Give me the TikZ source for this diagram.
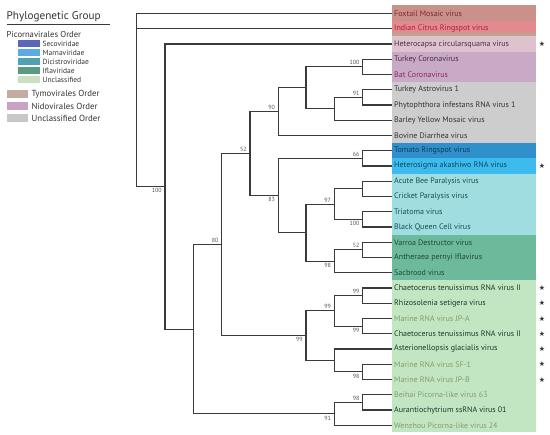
\documentclass[tikz,border=0pt]{standalone}
\usepackage{fontspec}
\setmainfont{PT Sans}
\newfontfamily\symfont{DejaVu Sans}
\definecolor{treec}{HTML}{3A3A3A}
\definecolor{cFox}{HTML}{C9918A}
\definecolor{cInd}{HTML}{E38A8F}
\definecolor{cTan}{HTML}{B9A58E}
\definecolor{cHet}{HTML}{DEC3CF}
\definecolor{cNido}{HTML}{C8A9C6}
\definecolor{cGrey}{HTML}{CDCDCD}
\definecolor{cSeco}{HTML}{3090CC}
\definecolor{cMarn}{HTML}{3DBAEE}
\definecolor{cDici}{HTML}{9FDDE0}
\definecolor{cIfla}{HTML}{6CB99B}
\definecolor{cUncl}{HTML}{C2E6C2}
\definecolor{lSeco}{HTML}{5A66B8}
\definecolor{lMarn}{HTML}{5AAAE6}
\definecolor{lDici}{HTML}{52A0B4}
\definecolor{lIfla}{HTML}{5A9A80}
\definecolor{lUncl}{HTML}{CCE0C0}
\definecolor{lTymo}{HTML}{C4ADA0}
\definecolor{lNido}{HTML}{C8A2C2}
\definecolor{lUord}{HTML}{C8C8C8}
\definecolor{tDark}{HTML}{333333}
\definecolor{tFox}{HTML}{7A2A2A}
\definecolor{tInd}{HTML}{B01E3C}
\definecolor{tHet}{HTML}{4A3040}
\definecolor{tBat}{HTML}{8E2A5A}
\definecolor{tNav}{HTML}{0E3A5A}
\definecolor{tTeal}{HTML}{0E4A5A}
\definecolor{tCyan}{HTML}{1A5050}
\definecolor{tGrn}{HTML}{1F4A3A}
\definecolor{tLg}{HTML}{1E3A2A}
\definecolor{tOl}{HTML}{8A9A6A}
\definecolor{supc}{HTML}{555555}
\begin{document}
\begin{tikzpicture}[x=1pt,y=-1pt,
  br/.style={draw=treec, line width=1.2pt},
  leaf/.style={anchor=west, inner xsep=2pt, inner ysep=0pt, font=\fontsize{8}{9}\selectfont, text=tDark},
  supv/.style={inner sep=0.6pt, font=\fontsize{6}{6}\selectfont, text=supc},
  supa/.style={supv, anchor=south east},
  supb/.style={supv, anchor=north east},
  starmk/.style={font=\symfont\fontsize{7}{7}\selectfont, text=tDark, inner sep=0pt},
  legt/.style={anchor=west, inner sep=0pt, text=tDark},
]
\useasboundingbox (0,0) rectangle (550,435);
\fill[white] (0,0) rectangle (550,435);
% bands
\fill[cFox] (392,5) rectangle (536,21.125);
\fill[cInd] (392,21.125) rectangle (536,33);
\fill[cTan] (392,33) rectangle (536,36.375);
\fill[cHet] (392,36.375) rectangle (536,51.625);
\fill[cNido] (392,51.625) rectangle (536,82.125);
\fill[cGrey] (392,82.125) rectangle (536,143.125);
\fill[cSeco] (392,143.125) rectangle (536,158.375);
\fill[cMarn] (392,158.375) rectangle (536,173.625);
\fill[cDici] (392,173.625) rectangle (536,234.625);
\fill[cIfla] (392,234.625) rectangle (536,280.375);
\fill[cUncl] (392,280.375) rectangle (536,432);
% leaves
\node[leaf,text=tFox] (L0) at (392,13.5) {Foxtail Mosaic virus};
\node[leaf,text=tInd] (L1) at (392,28.75) {Indian Citrus Ringspot virus};
\node[leaf,text=tHet] (L2) at (392,44) {Heterocapsa circularsquama virus};
\node[leaf,text=tHet] (L3) at (392,59.25) {Turkey Coronavirus};
\node[leaf,text=tBat] (L4) at (392,74.5) {Bat Coronavirus};
\node[leaf] (L5) at (392,89.75) {Turkey Astrovirus 1};
\node[leaf] (L6) at (392,105) {Phytophthora infestans RNA virus 1};
\node[leaf] (L7) at (392,120.25) {Barley Yellow Mosaic virus};
\node[leaf] (L8) at (392,135.5) {Bovine Diarrhea virus};
\node[leaf,text=tNav] (L9) at (392,150.75) {Tomato Ringspot virus};
\node[leaf,text=tTeal] (L10) at (392,166) {Heterosigma akashiwo RNA virus};
\node[leaf,text=tCyan] (L11) at (392,181.25) {Acute Bee Paralysis virus};
\node[leaf,text=tCyan] (L12) at (392,196.5) {Cricket Paralysis virus};
\node[leaf,text=tCyan] (L13) at (392,211.75) {Triatoma virus};
\node[leaf,text=tCyan] (L14) at (392,227) {Black Queen Cell virus};
\node[leaf,text=tGrn] (L15) at (392,242.25) {Varroa Destructor virus};
\node[leaf,text=tGrn] (L16) at (392,257.5) {Antheraea pernyi Iflavirus};
\node[leaf,text=tGrn] (L17) at (392,272.75) {Sacbrood virus};
\node[leaf,text=tLg] (L18) at (392,288) {Chaetocerus tenuissimus RNA virus II};
\node[leaf,text=tLg] (L19) at (392,303.25) {Rhizosolenia setigera virus};
\node[leaf,text=tOl] (L20) at (392,318.5) {Marine RNA virus JP-A};
\node[leaf,text=tLg] (L21) at (392,333.75) {Chaetocerus tenuissimus RNA virus II};
\node[leaf,text=tLg] (L22) at (392,349) {Asterionellopsis glacialis virus};
\node[leaf,text=tOl] (L23) at (392,364.25) {Marine RNA virus SF-1};
\node[leaf,text=tOl] (L24) at (392,379.5) {Marine RNA virus JP-B};
\node[leaf,text=tOl] (L25) at (392,394.75) {Beihai Picorna-like virus 63};
\node[leaf,text=tLg] (L26) at (392,410) {Aurantiochytrium ssRNA virus 01};
\node[leaf,text=tOl] (L27) at (392,425.25) {Wenzhou Picorna-like virus 24};
% stars
\foreach \n/\yy in {S2/44,S10/166,S18/288,S19/303.25,S20/318.5,S21/333.75,S22/349,S23/364.25,S24/379.5}
  \node[starmk] (\n) at (542,\yy) {★};
% internal nodes
\coordinate (root) at (136.7,100);
\coordinate (n1) at (165,186.61);
\coordinate (n2) at (193.3,329.22);
\coordinate (n80x) at (221.7,244.63);
\coordinate (n52) at (250,153.61);
\coordinate (n90) at (278.3,111.67);
\coordinate (nCor) at (306,87.84);
\coordinate (nTC) at (362.7,66.875);
\coordinate (nTAB) at (334.3,108.81);
\coordinate (nTA) at (362.7,97.375);
\coordinate (n83) at (278.3,195.55);
\coordinate (n66) at (362.7,158.375);
\coordinate (nDI) at (306,232.72);
\coordinate (n97) at (334.3,204.125);
\coordinate (nAC) at (362.7,188.875);
\coordinate (nTB) at (362.7,219.375);
\coordinate (n98a) at (334.3,261.31);
\coordinate (nVA) at (362.7,249.875);
\coordinate (n99a) at (306,335.66);
\coordinate (n99b) at (334.3,310.875);
\coordinate (nCR) at (362.7,295.625);
\coordinate (nJC) at (362.7,326.125);
\coordinate (nAst) at (334.3,360.44);
\coordinate (nSJ) at (362.7,371.875);
\coordinate (n91) at (334.3,413.81);
\coordinate (nBA) at (362.7,402.375);
% connectors
\draw[br] (root) |- (L0.west);
\draw[br] (root) |- (L1.west);
\draw[br] (root) |- (n1);
\draw[br] (n1) |- (L2.west);
\draw[br] (n1) |- (n2);
\draw[br] (n2) |- (n80x);
\draw[br] (n2) |- (n91);
\draw[br] (n80x) |- (n52);
\draw[br] (n80x) |- (n99a);
\draw[br] (n52) |- (n90);
\draw[br] (n52) |- (n83);
\draw[br] (n90) |- (nCor);
\draw[br] (n90) |- (L8.west);
\draw[br] (nCor) |- (nTC);
\draw[br] (nCor) |- (nTAB);
\draw[br] (nTC) |- (L3.west);
\draw[br] (nTC) |- (L4.west);
\draw[br] (nTAB) |- (nTA);
\draw[br] (nTAB) |- (L7.west);
\draw[br] (nTA) |- (L5.west);
\draw[br] (nTA) |- (L6.west);
\draw[br] (n83) |- (n66);
\draw[br] (n83) |- (nDI);
\draw[br] (n66) |- (L9.west);
\draw[br] (n66) |- (L10.west);
\draw[br] (nDI) |- (n97);
\draw[br] (nDI) |- (n98a);
\draw[br] (n97) |- (nAC);
\draw[br] (n97) |- (nTB);
\draw[br] (nAC) |- (L11.west);
\draw[br] (nAC) |- (L12.west);
\draw[br] (nTB) |- (L13.west);
\draw[br] (nTB) |- (L14.west);
\draw[br] (n98a) |- (nVA);
\draw[br] (n98a) |- (L17.west);
\draw[br] (nVA) |- (L15.west);
\draw[br] (nVA) |- (L16.west);
\draw[br] (n99a) |- (n99b);
\draw[br] (n99a) |- (nAst);
\draw[br] (n99b) |- (nCR);
\draw[br] (n99b) |- (nJC);
\draw[br] (nCR) |- (L18.west);
\draw[br] (nCR) |- (L19.west);
\draw[br] (nJC) |- (L20.west);
\draw[br] (nJC) |- (L21.west);
\draw[br] (nAst) |- (L22.west);
\draw[br] (nAst) |- (nSJ);
\draw[br] (nSJ) |- (L23.west);
\draw[br] (nSJ) |- (L24.west);
\draw[br] (n91) |- (nBA);
\draw[br] (n91) |- (L27.west);
\draw[br] (nBA) |- (L25.west);
\draw[br] (nBA) |- (L26.west);
% support values
\node[supa] (s1) at (360.2,65.7) {100};
\node[supa] (s2) at (360.2,96.2) {91};
\node[supa] (s3) at (275.8,110.5) {90};
\node[supa] (s4) at (360.2,157.2) {66};
\node[supa] (s5) at (331.8,202.9) {97};
\node[supb] (s6) at (360.2,220.6) {100};
\node[supa] (s7) at (360.2,248.7) {52};
\node[supb] (s8) at (331.8,262.5) {98};
\node[supb] (s9) at (275.8,196.8) {83};
\node[supa] (s10) at (247.5,152.4) {52};
\node[supa] (s11) at (219.2,243.4) {80};
\node[supa] (s12) at (360.2,294.4) {99};
\node[supb] (s13) at (360.2,327.3) {99};
\node[supa] (s14) at (331.8,309.7) {99};
\node[supb] (s15) at (360.2,373.1) {98};
\node[supb] (s16) at (303.5,336.9) {99};
\node[supa] (s17) at (360.2,401.2) {98};
\node[supb] (s18) at (331.8,415) {91};
\node[supb] (s19) at (162.5,187.8) {100};
% legend
\node[legt, font=\fontsize{11.2}{12}\selectfont] (title) at (6.5,16.5) {Phylogenetic Group};
\draw[line width=1pt, treec] (6.7,25) -- (110,25);
\node[legt, font=\fontsize{8.6}{9}\selectfont] (pico) at (6.5,34) {Picornavirales Order};
\foreach \n/\c/\yy/\t in {g1/lSeco/44/Secoviridae,g2/lMarn/53/Marnaviridae,g3/lDici/62/Dicistroviridae,g4/lIfla/71/Iflaviridae,g5/lUncl/80/Unclassified}{
  \fill[\c] (18.3,\yy-3.5) rectangle (40,\yy+3.5);
  \node[legt, font=\fontsize{7.5}{8}\selectfont] (\n) at (42.5,\yy) {\t};
}
\foreach \n/\c/\yy/\t in {h1/lTymo/94/Tymovirales Order,h2/lNido/106/Nidovirales Order,h3/lUord/118/Unclassified Order}{
  \fill[\c] (7,\yy-4) rectangle (28,\yy+4);
  \node[legt, font=\fontsize{8.8}{9}\selectfont] (\n) at (31.5,\yy) {\t};
}
\end{tikzpicture}
\end{document}
